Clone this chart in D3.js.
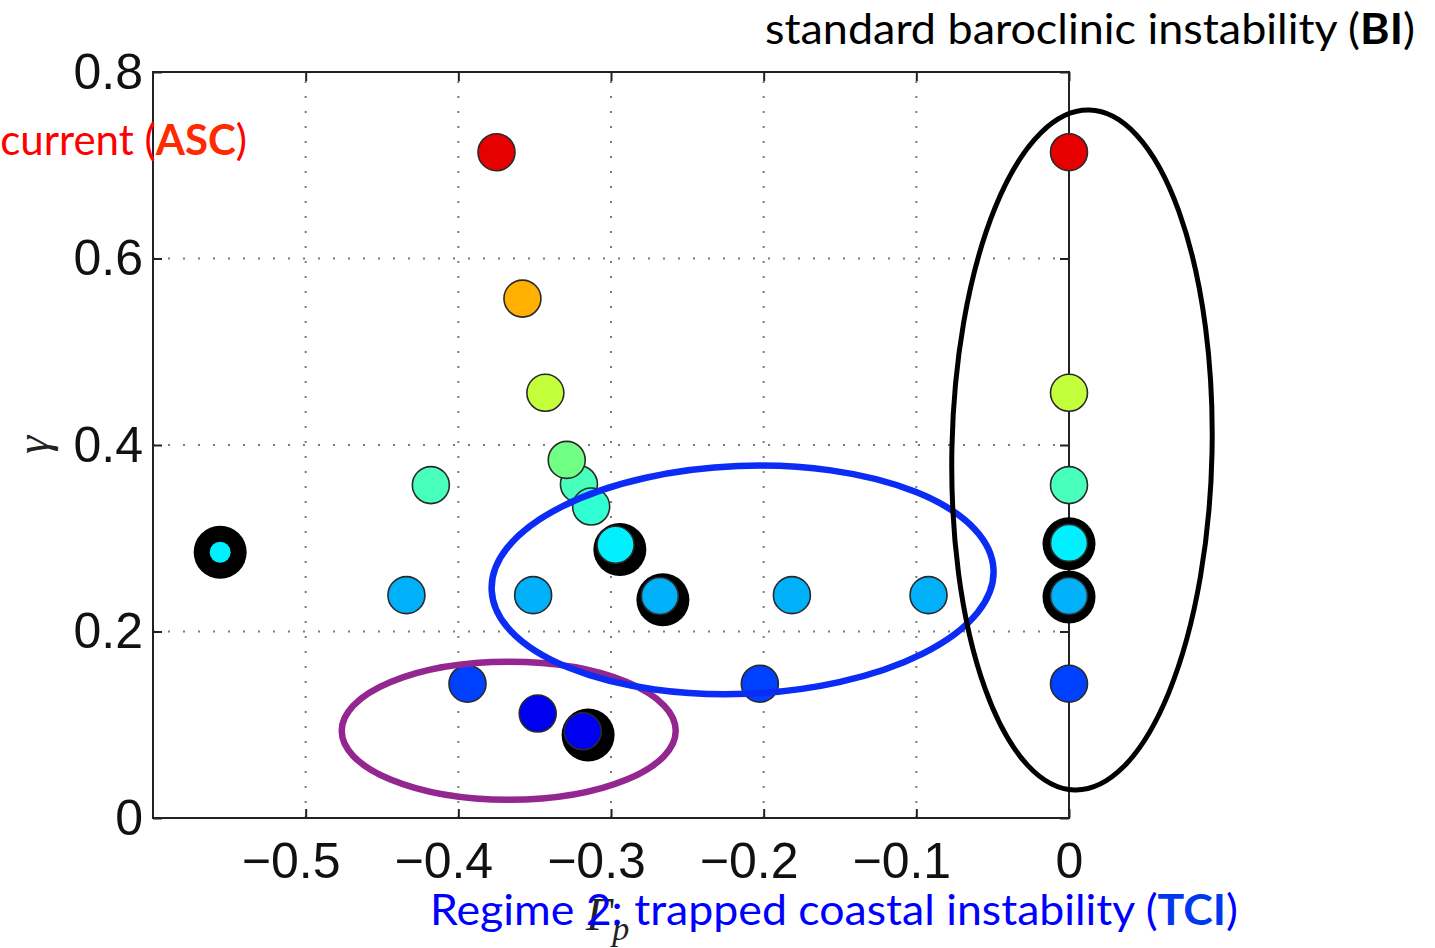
<!DOCTYPE html>
<html>
<head>
<meta charset="utf-8">
<script src="https://cdn.jsdelivr.net/npm/d3@7"></script>
<style>
  html, body { margin: 0; padding: 0; background: #fff; }
  svg { display: block; }
</style>
</head>
<body>
<svg id="chart" width="1435" height="948"></svg>
<script>
// ---------------- data ----------------
const xTicks = [-0.5, -0.4, -0.3, -0.2, -0.1, 0];
const xTickLabels = ["\u22120.5", "\u22120.4", "\u22120.3", "\u22120.2", "\u22120.1", "0"];
const yTicks = [0, 0.2, 0.4, 0.6, 0.8];
const yTickLabels = ["0", "0.2", "0.4", "0.6", "0.8"];

// colour groups (by gamma level, jet-like colormap)
const groupNames = ["g071", "g056", "g046", "g038", "g036", "g033", "g029", "g024", "g014", "g010"];
const groupColors = ["#e60000", "#ffb000", "#c4ff3c", "#72ff86", "#48ffbc", "#30ffd4", "#00f0ff", "#00b0f8", "#0040ff", "#0000f0"];

// highlighted cases (black rings behind the markers)
const ringX = [-0.556, -0.2942, -0.266, -0.315, 0, 0];
const ringY = [0.285, 0.288, 0.234, 0.089, 0.294, 0.237];

// plotted cases (drawing order matters for overlaps)
const ptX = [-0.375, -0.358, -0.343, -0.321, -0.329, -0.313, -0.418, -0.556, -0.297,
             -0.434, -0.351, -0.268, -0.1815, -0.092, -0.2025, -0.394, -0.348, -0.3185,
             0, 0, 0, 0, 0, 0];
const ptY = [0.714, 0.557, 0.456, 0.358, 0.384, 0.334, 0.357, 0.285, 0.293,
             0.239, 0.239, 0.238, 0.239, 0.239, 0.144, 0.144, 0.112, 0.093,
             0.714, 0.456, 0.357, 0.295, 0.238, 0.144];
const ptGroup = ["g071", "g056", "g046", "g036", "g038", "g033", "g036", "g029", "g029",
                 "g024", "g024", "g024", "g024", "g024", "g014", "g014", "g010", "g010",
                 "g071", "g046", "g036", "g029", "g024", "g014"];
const ptKind = ["n","n","n","n","n","n","n","small","n",
                "n","n","n","n","n","n","n","n","n",
                "n","n","n","n","n","n"];

// regime annotation ellipses (centre in data units, half-axes in data units, tilt deg)
const ellName = ["TCI2", "TCI", "BI"];
const ellCx = [-0.367, -0.2138, 0.0085];
const ellCy = [0.0935, 0.2553, 0.3946];
const ellRx = [0.1094, 0.1645, 0.0852];
const ellRy = [0.074, 0.1222, 0.3646];
const ellTilt = [0, -2.3, 1.2];
const ellColor = ["#93278f", "#0a2cf5", "#000000"];

// ---------------- chart ----------------
const svg = d3.select("#chart");
const L = 153, R = 1069, T = 72, B = 818;
const x = d3.scaleLinear().domain([-0.6, 0]).range([L, R]);
const y = d3.scaleLinear().domain([0, 0.8]).range([B, T]);
const color = d3.scaleOrdinal().domain(groupNames).range(groupColors);

// grid
const grid = svg.append("g");
grid.selectAll("line.vx").data(xTicks.filter(v => v !== 0)).join("line")
  .attr("x1", d => x(d)).attr("x2", d => x(d)).attr("y1", B).attr("y2", T)
  .attr("stroke", "#7a7a7a").attr("stroke-width", 2).attr("stroke-dasharray", "2,13");
grid.selectAll("line.hy").data(yTicks.filter(v => v !== 0 && v !== 0.8)).join("line")
  .attr("y1", d => y(d)).attr("y2", d => y(d)).attr("x1", L).attr("x2", R)
  .attr("stroke", "#7a7a7a").attr("stroke-width", 2).attr("stroke-dasharray", "2,13");

// axes
const tickFont = "'Liberation Sans', Arial, Helvetica, sans-serif";
function styleAxis(g) {
  g.select(".domain").remove();
  g.selectAll(".tick line").attr("stroke", "#222").attr("stroke-width", 2);
  g.selectAll(".tick text").attr("font-family", tickFont).attr("font-size", 50).attr("fill", "#111");
}
svg.append("g").attr("transform", `translate(0,${B})`)
  .call(d3.axisBottom(x).tickValues(xTicks).tickFormat((d, i) => xTickLabels[i]).tickSize(-9).tickPadding(24))
  .call(styleAxis)
  .call(g => g.selectAll(".tick text").attr("dx", d => d < 0 ? -15 : 0));
svg.append("g").attr("transform", `translate(${L},0)`)
  .call(d3.axisLeft(y).tickValues(yTicks).tickFormat((d, i) => yTickLabels[i]).tickSize(-9).tickPadding(10))
  .call(styleAxis);
svg.append("g").attr("transform", `translate(0,${T})`)
  .call(d3.axisTop(x).tickValues(xTicks).tickFormat("").tickSize(-9))
  .call(styleAxis);
svg.append("g").attr("transform", `translate(${R},0)`)
  .call(d3.axisRight(y).tickValues(yTicks).tickFormat("").tickSize(-9))
  .call(styleAxis);

// frame
svg.append("rect").attr("x", L).attr("y", T).attr("width", R - L).attr("height", B - T)
  .attr("fill", "none").attr("stroke", "#222").attr("stroke-width", 2);

// axis labels
svg.append("text").attr("transform", `translate(48,445) rotate(-90)`)
  .attr("text-anchor", "middle").attr("font-family", "'Liberation Serif', 'DejaVu Serif', serif")
  .attr("font-style", "italic").attr("font-size", 46).attr("fill", "#222").text("\u03b3");
const xl = svg.append("text").attr("x", 586).attr("y", 930)
  .attr("font-family", "'Liberation Serif', 'DejaVu Serif', serif")
  .attr("font-style", "italic").attr("font-size", 46).attr("fill", "#222");
xl.append("tspan").text("\u0393");
xl.append("tspan").attr("font-size", 34).attr("dy", 10).text("p");

// black rings
const ringIdx = d3.range(ringX.length);
svg.append("g").selectAll("circle").data(ringIdx).join("circle")
  .attr("cx", i => x(ringX[i])).attr("cy", i => y(ringY[i])).attr("r", 26.5)
  .attr("fill", "#000");

// markers
const idx = d3.range(ptX.length);
svg.append("g").selectAll("circle").data(idx).join("circle")
  .attr("cx", i => x(ptX[i])).attr("cy", i => y(ptY[i]))
  .attr("r", i => ptKind[i] === "small" ? 10.5 : 18.5)
  .attr("fill", i => color(ptGroup[i]))
  .attr("stroke", i => ptKind[i] === "small" ? "none" : "#2a2a2a")
  .attr("stroke-width", 1.6);

// ellipses
const eIdx = d3.range(ellName.length);
svg.append("g").selectAll("ellipse").data(eIdx).join("ellipse")
  .attr("transform", i => `translate(${x(ellCx[i])},${y(ellCy[i])}) rotate(${ellTilt[i]})`)
  .attr("rx", i => x(ellRx[i]) - x(0))
  .attr("ry", i => y(0) - y(ellRy[i]))
  .attr("fill", "none")
  .attr("stroke", i => ellColor[i])
  .attr("stroke-width", i => i === 2 ? 5 : 6.5);

// annotation texts
const annFont = "Lato, 'Open Sans', sans-serif";
const t1 = svg.append("text").attr("x", 765).attr("y", 44)
  .attr("font-family", annFont).attr("font-size", 42).attr("fill", "#000")
  .attr("textLength", 650).attr("lengthAdjust", "spacingAndGlyphs");
t1.append("tspan").text("standard baroclinic instability (");
t1.append("tspan").attr("font-weight", "bold").text("BI");
t1.append("tspan").text(")");

const t2 = svg.append("text").attr("x", 247).attr("y", 155).attr("text-anchor", "end")
  .attr("font-family", annFont).attr("font-size", 42).attr("fill", "#ff0000");
t2.append("tspan").text("current (");
t2.append("tspan").attr("font-weight", "bold").attr("fill", "#ff2a00").text("ASC");
t2.append("tspan").text(")");

const t3 = svg.append("text").attr("x", 430).attr("y", 925)
  .attr("font-family", annFont).attr("font-size", 42).attr("fill", "#0000ff")
  .attr("textLength", 808).attr("lengthAdjust", "spacingAndGlyphs");
t3.append("tspan").text("Regime 2: trapped coastal instability (");
t3.append("tspan").attr("font-weight", "bold").attr("fill", "#0038f0").text("TCI");
t3.append("tspan").text(")");
</script>
</body>
</html>
